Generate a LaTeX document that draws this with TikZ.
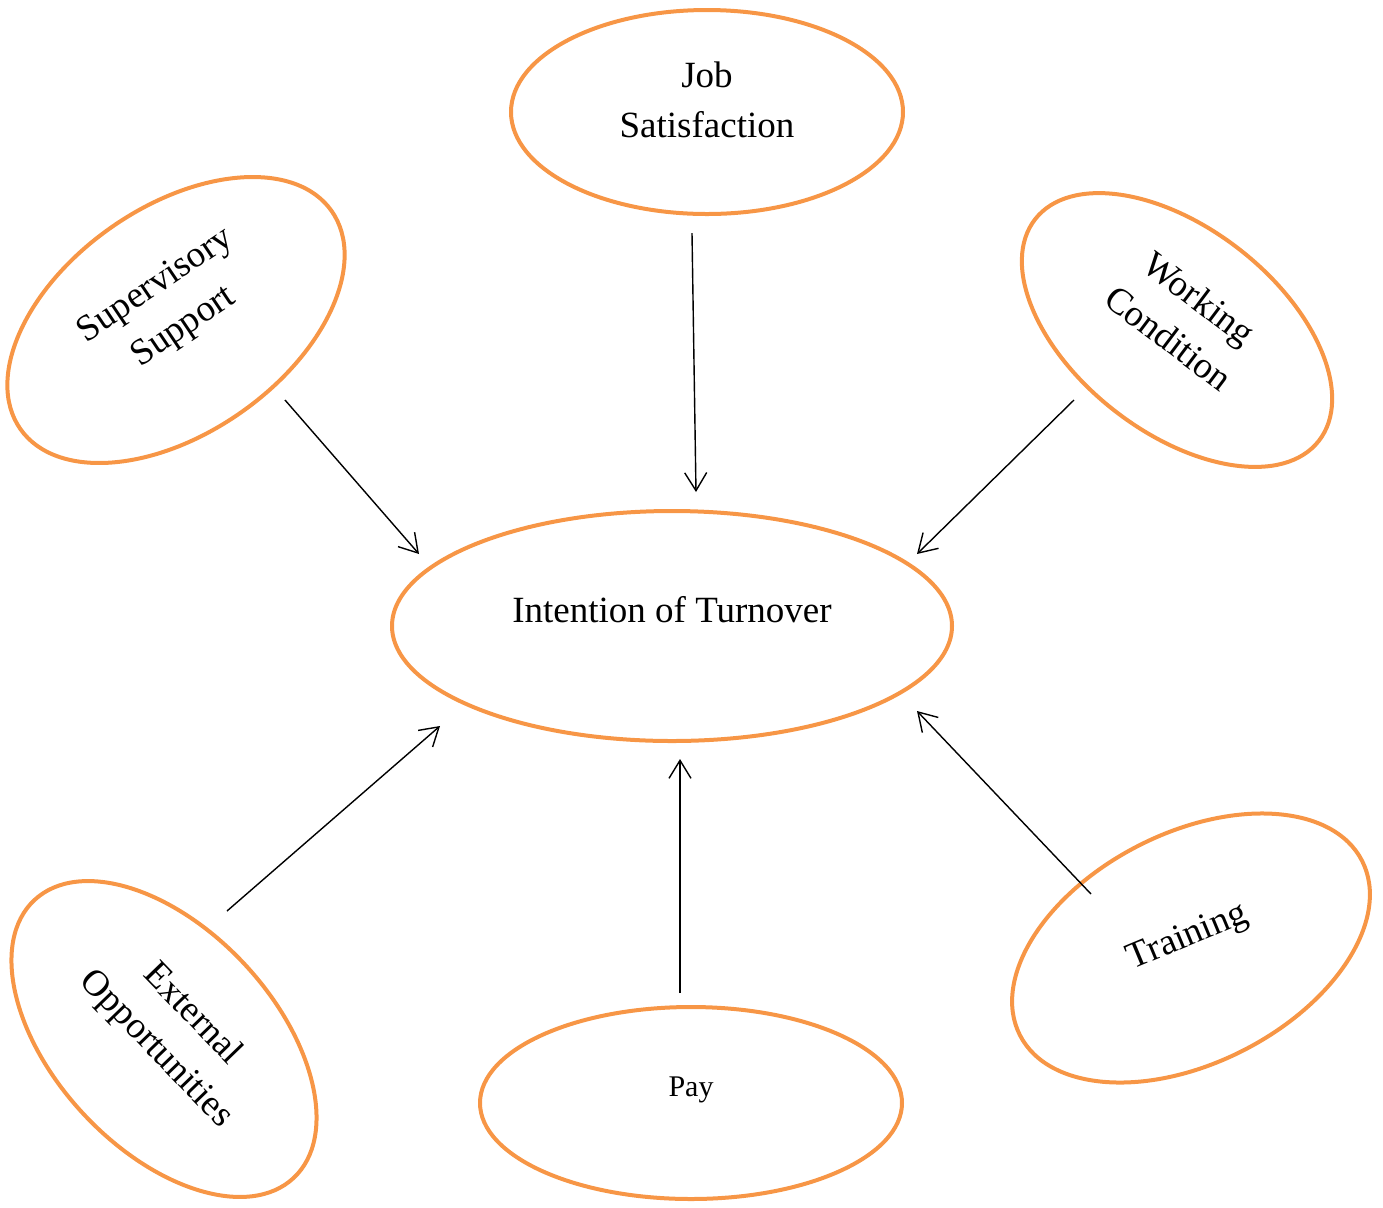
\documentclass[tikz,border=0pt]{standalone}
\usepackage{fontspec}
\setmainfont{Liberation Serif}
\usetikzlibrary{shapes.geometric,arrows.meta}
\definecolor{ovalorange}{HTML}{F79646}
\begin{document}
\begin{tikzpicture}[x=0.5pt,y=-0.5pt,
  oval/.style={ellipse,draw=ovalorange,line width=2pt,inner sep=0pt},
  txt/.style={align=center,font=\fontsize{18.5}{25}\selectfont,inner sep=0pt},
  smalltxt/.style={align=center,font=\fontsize{15}{20}\selectfont,inner sep=0pt},
  conn/.style={draw=black,line width=0.7pt,-{Straight Barb[length=9pt,width=11pt,line width=0.7pt]}}]
\useasboundingbox (0,0) rectangle (1383,1207);
% ellipses
\node[oval,minimum width=196pt,minimum height=102pt] (js) at (707,112) {};
\node[oval,minimum width=190pt,minimum height=113pt,rotate=35] (ss) at (176,320) {};
\node[oval,minimum width=180pt,minimum height=102pt,rotate=-38] (wc) at (1177,330) {};
\node[oval,minimum width=280pt,minimum height=115pt] (it) at (672,626) {};
\node[oval,minimum width=190pt,minimum height=110pt,rotate=-47] (eo) at (164,1039) {};
\node[oval,minimum width=211pt,minimum height=96pt] (py) at (691,1103) {};
\node[oval,minimum width=192pt,minimum height=115pt,rotate=27] (tr) at (1191,948) {};
% texts
\node[txt] (jst) at (707,100) {Job\\Satisfaction};
\node[txt,rotate=34] (sst) at (170,307) {Supervisory\\Support};
\node[txt,rotate=-37] (wct) at (1184,318) {Working\\Condition};
\node[txt] (itt) at (672,610) {Intention of Turnover};
\node[txt,rotate=-46] (eot) at (174,1032) {External\\Opportunities};
\node[smalltxt] (pyt) at (691,1090) {Pay};
\node[txt,rotate=22.6] (trt) at (1188,938) {Training};
% connector end points
\coordinate (jsA) at (692,233); \coordinate (jsB) at (696,492);
\coordinate (ssA) at (285,400); \coordinate (ssB) at (419,554);
\coordinate (wcA) at (1074,400); \coordinate (wcB) at (917,554);
\coordinate (eoA) at (227,911); \coordinate (eoB) at (440,726);
\coordinate (pyA) at (680,993); \coordinate (pyB) at (680,759);
\coordinate (trA) at (1091,894); \coordinate (trB) at (917,711);
\draw[conn] (jsA) -- (jsB);
\draw[conn] (ssA) -- (ssB);
\draw[conn] (wcA) -- (wcB);
\draw[conn] (eoA) -- (eoB);
\draw[conn] (pyA) -- (pyB);
\draw[conn] (trA) -- (trB);
\end{tikzpicture}
\end{document}
